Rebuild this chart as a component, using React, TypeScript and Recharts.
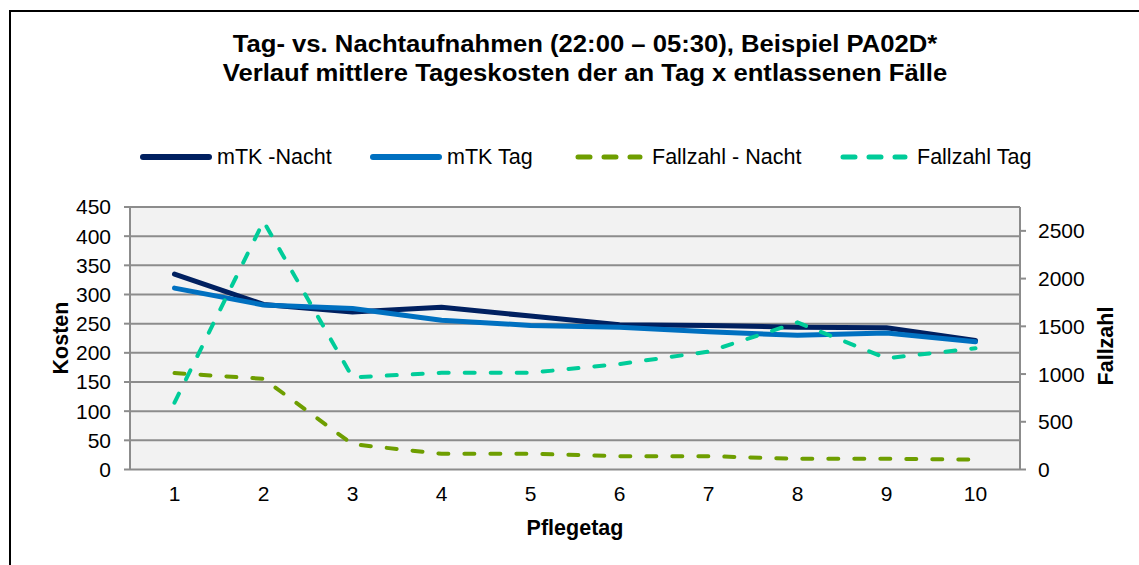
import React from 'react';
import { LineChart, Line, XAxis, YAxis, CartesianGrid } from 'recharts';

// Pflegetag 1..10
const DAYS = [1, 2, 3, 4, 5, 6, 7, 8, 9, 10];
// mittlere Tageskosten (linke Achse)
const MTK_NACHT = [335, 283, 270, 278, 263, 248, 247, 244, 243, 221];
const MTK_TAG = [311, 282, 276, 256, 247, 244, 236, 230, 234, 219];
// Fallzahlen (rechte Achse)
const FALL_NACHT = [1010, 950, 265, 165, 165, 140, 140, 112, 112, 103];
const FALL_TAG = [700, 2600, 965, 1013, 1013, 1105, 1235, 1540, 1165, 1270];

const LEFT_TICKS = [0, 50, 100, 150, 200, 250, 300, 350, 400, 450];
const RIGHT_TICKS = [0, 500, 1000, 1500, 2000, 2500];
const BOUNDARY_TICKS = [...DAYS.map(d => d - 0.5), DAYS[DAYS.length - 1] + 0.5];

const data = DAYS.map((day, i) => ({
  day,
  mtkNacht: MTK_NACHT[i],
  mtkTag: MTK_TAG[i],
  fallNacht: FALL_NACHT[i],
  fallTag: FALL_TAG[i],
}));

const FONT = '"Liberation Sans", Arial, sans-serif';
const GRID = '#8c8c8c';
const C_NACHT = '#002060';
const C_TAG = '#0070c0';
const C_FN = '#6e9e00';
const C_FT = '#00cc99';
const DASH = '10 16';

const LEGEND = [
  { name: 'mTK -Nacht', color: C_NACHT, dashed: false, x: 140 },
  { name: 'mTK Tag', color: C_TAG, dashed: false, x: 370 },
  { name: 'Fallzahl - Nacht', color: C_FN, dashed: true, x: 575 },
  { name: 'Fallzahl Tag', color: C_FT, dashed: true, x: 840 },
];

const tickStyle = { fontSize: 21, fill: '#000', fontFamily: FONT };
const axisTitle: React.CSSProperties = { position: 'absolute', fontWeight: 'bold', fontSize: 21.5, whiteSpace: 'nowrap' };

export default function App() {
  return (
    <div
      style={{
        position: 'absolute',
        left: 0,
        top: 0,
        width: 1139,
        height: 565,
        overflow: 'hidden',
        background: '#fff',
        fontFamily: FONT,
      }}
    >
      <div
        style={{
          position: 'absolute',
          left: 9,
          top: 10,
          width: 1300,
          height: 700,
          border: '2px solid #000',
        }}
      />
      <div
        style={{
          position: 'absolute',
          left: 0,
          top: 30,
          width: 1170,
          textAlign: 'center',
          fontWeight: 'bold',
          fontSize: 23,
          lineHeight: '29px',
          transform: 'scaleX(1.115)',
          transformOrigin: '585px 0',
          whiteSpace: 'nowrap',
        }}
      >
        <div>Tag- vs. Nachtaufnahmen (22:00 – 05:30), Beispiel PA02D*</div>
        <div>Verlauf mittlere Tageskosten der an Tag x entlassenen Fälle</div>
      </div>

      {LEGEND.map(item => (
        <div
          key={item.name}
          style={{
            position: 'absolute',
            left: item.x,
            top: 145,
            height: 24,
            display: 'flex',
            alignItems: 'center',
            fontSize: 21.5,
            whiteSpace: 'nowrap',
          }}
        >
          <svg width={item.dashed ? 68 : 72} height={10} style={{ marginRight: item.dashed ? 9 : 5 }}>
            <line
              x1={3}
              y1={5}
              x2={item.dashed ? 65 : 69}
              y2={5}
              stroke={item.color}
              strokeWidth={item.dashed ? 5 : 6}
              strokeLinecap="round"
              strokeDasharray={item.dashed ? '12 14' : undefined}
            />
          </svg>
          <span>{item.name}</span>
        </div>
      ))}

      <div style={{ ...axisTitle, left: 61, top: 338, transform: 'translate(-50%, -50%) rotate(-90deg)' }}>
        Kosten
      </div>
      <div style={{ ...axisTitle, left: 1106, top: 346, transform: 'translate(-50%, -50%) rotate(-90deg)' }}>
        Fallzahl
      </div>
      <div style={{ ...axisTitle, left: 575, top: 528, transform: 'translate(-50%, -50%)' }}>
        Pflegetag
      </div>

      <div style={{ position: 'absolute', left: 0, top: 0 }}>
        <LineChart
          width={1139}
          height={565}
          data={data}
          margin={{ top: 207, right: 0, bottom: 0, left: 0 }}
        >
          <CartesianGrid
            yAxisId="left"
            xAxisId="lbl"
            vertical={false}
            horizontal
            stroke={GRID}
            strokeWidth={2}
            fill="#f2f2f2"
            fillOpacity={1}
          />
          <XAxis
            xAxisId="tk"
            type="number"
            dataKey="day"
            domain={[0.5, 10.5]}
            ticks={BOUNDARY_TICKS}
            height={0}
            tickSize={6}
            tickFormatter={() => ''}
            axisLine={{ stroke: GRID, strokeWidth: 2 }}
            tickLine={{ stroke: GRID, strokeWidth: 2 }}
            allowDataOverflow
          />
          <XAxis
            xAxisId="lbl"
            type="number"
            dataKey="day"
            domain={[0.5, 10.5]}
            ticks={DAYS}
            height={95.5}
            axisLine={false}
            tickLine={false}
            tickSize={6}
            tickMargin={11}
            tick={tickStyle}
            interval={0}
          />
          <YAxis
            yAxisId="left"
            orientation="left"
            width={130}
            domain={[0, 450]}
            ticks={LEFT_TICKS}
            interval={0}
            axisLine={{ stroke: GRID, strokeWidth: 2 }}
            tickLine={{ stroke: GRID, strokeWidth: 2 }}
            tickSize={6}
            tickMargin={13}
            tick={tickStyle}
          />
          <YAxis
            yAxisId="right"
            orientation="right"
            width={119}
            domain={[0, 2750]}
            ticks={RIGHT_TICKS}
            interval={0}
            axisLine={{ stroke: GRID, strokeWidth: 2 }}
            tickLine={{ stroke: GRID, strokeWidth: 2 }}
            tickSize={6}
            tickMargin={12}
            tick={{ ...tickStyle, textAnchor: 'start' }}
          />
          <Line
            yAxisId="left"
            xAxisId="lbl"
            dataKey="mtkNacht"
            stroke={C_NACHT}
            strokeWidth={5}
            dot={false}
            strokeLinejoin="round"
            strokeLinecap="round"
            isAnimationActive={false}
          />
          <Line
            yAxisId="left"
            xAxisId="lbl"
            dataKey="mtkTag"
            stroke={C_TAG}
            strokeWidth={5}
            dot={false}
            strokeLinejoin="round"
            strokeLinecap="round"
            isAnimationActive={false}
          />
          <Line
            yAxisId="right"
            xAxisId="lbl"
            dataKey="fallNacht"
            stroke={C_FN}
            strokeWidth={4}
            strokeDasharray={DASH}
            strokeLinecap="round"
            dot={false}
            isAnimationActive={false}
          />
          <Line
            yAxisId="right"
            xAxisId="lbl"
            dataKey="fallTag"
            stroke={C_FT}
            strokeWidth={4}
            strokeDasharray={DASH}
            strokeLinecap="round"
            dot={false}
            isAnimationActive={false}
          />
        </LineChart>
      </div>
    </div>
  );
}
